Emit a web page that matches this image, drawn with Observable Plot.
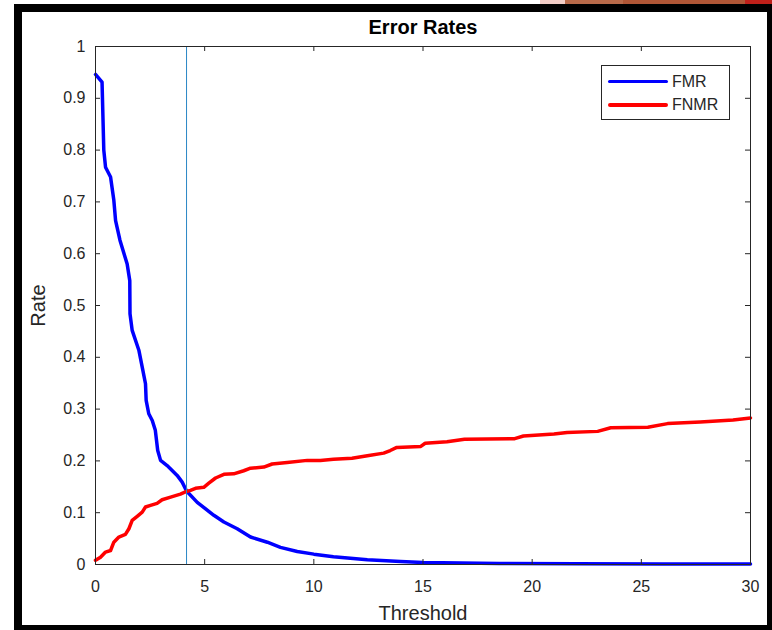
<!DOCTYPE html>
<html>
<head>
<meta charset="utf-8">
<script src="https://cdn.jsdelivr.net/npm/d3@7"></script>
<script src="https://cdn.jsdelivr.net/npm/@observablehq/plot@0.6"></script>
<style>
  body { margin: 0; background: #fff; }
  #wrap { position: relative; width: 772px; height: 630px; overflow: hidden; font-family: "Liberation Sans", Arial, sans-serif; background: #fff; }
  #wrap svg { position: absolute; left: 0; top: 0; }
  .frameBorder { position: absolute; left: 14px; top: 4px; width: 758px; height: 626px; box-sizing: border-box;
    border-left: 8px solid #000; border-top: 8px solid #000; border-right: 5px solid #000; border-bottom: 5px solid #000; pointer-events: none; }
  .strip { position: absolute; top: 0; height: 4px; }
  #legend { position: absolute; left: 601px; top: 65px; width: 129px; height: 55px; box-sizing: border-box; border: 1px solid #262626; background: #fff; }
  .lg-line { position: absolute; left: 6px; width: 60px; height: 3.5px; border-radius: 2px; }
  .lg-text { position: absolute; left: 70px; font-size: 16px; color: #262626; line-height: 16px; }
</style>
</head>
<body>
<div id="wrap"></div>
<script>
// ---- data ----
const fmrThreshold = [0, 0.30, 0.38, 0.46, 0.69, 0.84, 0.92, 1.12, 1.45, 1.57, 1.58, 1.68, 1.99, 2.14, 2.29, 2.32, 2.44, 2.60, 2.74, 2.85, 2.98, 3.28, 3.74, 3.97, 4.17, 4.66, 5.42, 5.88, 6.49, 7.10, 7.87, 8.47, 9.24, 10.0, 10.9, 12.45, 13.97, 15.0, 18.5, 22.0, 26.0, 30.0];
const fmrRate      = [0.946, 0.931, 0.800, 0.767, 0.748, 0.703, 0.664, 0.626, 0.580, 0.548, 0.484, 0.452, 0.413, 0.381, 0.349, 0.317, 0.291, 0.278, 0.259, 0.220, 0.201, 0.191, 0.172, 0.159, 0.142, 0.120, 0.095, 0.082, 0.069, 0.053, 0.043, 0.033, 0.025, 0.020, 0.015, 0.009, 0.006, 0.004, 0.002, 0.0015, 0.001, 0.001];

const fnmrThreshold = [0, 0.23, 0.46, 0.69, 0.84, 1.07, 1.37, 1.53, 1.68, 1.91, 2.14, 2.29, 2.52, 2.82, 3.05, 3.44, 3.89, 4.17, 4.35, 4.58, 4.96, 5.19, 5.50, 5.88, 6.33, 6.79, 7.10, 7.71, 8.09, 8.78, 9.70, 10.3, 10.9, 11.75, 12.45, 13.2, 13.5, 13.8, 14.9, 15.1, 16.1, 16.9, 19.2, 19.6, 21.0, 21.6, 23.0, 23.6, 25.3, 26.2, 27.7, 29.2, 30.0];
const fnmrRate      = [0.008, 0.014, 0.024, 0.027, 0.043, 0.053, 0.058, 0.069, 0.085, 0.093, 0.101, 0.111, 0.114, 0.118, 0.125, 0.130, 0.136, 0.141, 0.143, 0.147, 0.149, 0.157, 0.167, 0.174, 0.175, 0.181, 0.186, 0.188, 0.194, 0.197, 0.201, 0.201, 0.203, 0.205, 0.210, 0.215, 0.220, 0.226, 0.228, 0.234, 0.237, 0.242, 0.243, 0.248, 0.252, 0.255, 0.257, 0.264, 0.265, 0.272, 0.275, 0.279, 0.283];

const eerThreshold = [4.17];
const seriesNames = ["FMR", "FNMR"];
const seriesColors = ["#0000ff", "#ff0000"];
const xTicks = [0, 5, 10, 15, 20, 25, 30];
const yTicks = [0, 0.1, 0.2, 0.3, 0.4, 0.5, 0.6, 0.7, 0.8, 0.9, 1];
const titleText = "Error Rates";
const xLabelText = "Threshold";
const yLabelText = "Rate";

// ---- build ----
const W = 772, H = 630, ml = 95, mr = 22, mt = 46, mb = 66;
const fw = W - ml - mr, fh = H - mt - mb, tl = 5;
const axisColor = "#262626";

const fmr = fmrThreshold.map((t, i) => ({t, r: fmrRate[i]}));
const fnmr = fnmrThreshold.map((t, i) => ({t, r: fnmrRate[i]}));

const chart = Plot.plot({
  width: W, height: H,
  marginLeft: ml, marginRight: mr, marginTop: mt, marginBottom: mb,
  style: {fontFamily: "Liberation Sans, Arial, sans-serif", background: "transparent", color: axisColor},
  x: {domain: [0, 30]},
  y: {domain: [0, 1]},
  marks: [
    Plot.line(fmr, {x: "t", y: "r", stroke: seriesColors[0], strokeWidth: 3.5, strokeLinejoin: "round"}),
    Plot.line(fnmr, {x: "t", y: "r", stroke: seriesColors[1], strokeWidth: 3.5, strokeLinejoin: "round"}),
    Plot.ruleX(eerThreshold, {x: d => d, stroke: "#2b87c6", strokeWidth: 1}),
    Plot.frame({stroke: axisColor, strokeWidth: 1}),
    Plot.tickY(yTicks, {y: d => d, insetRight: fw - tl, stroke: axisColor}),
    Plot.tickY(yTicks, {y: d => d, insetLeft: fw - tl, stroke: axisColor}),
    Plot.tickX(xTicks, {x: d => d, insetTop: fh - tl, stroke: axisColor}),
    Plot.tickX(xTicks, {x: d => d, insetBottom: fh - tl, stroke: axisColor}),
    Plot.axisX({ticks: xTicks, tickSize: 0, tickPadding: 16, fontSize: 16, label: null, tickFormat: d => String(d)}),
    Plot.axisY({ticks: yTicks, tickSize: 0, tickPadding: 10, fontSize: 16, label: null, tickFormat: d => String(+d.toFixed(1))}),
    Plot.text([titleText], {text: d => d, frameAnchor: "top", lineAnchor: "middle", dy: -19, fontSize: 20, fontWeight: "bold", fill: "#000"}),
    Plot.text([xLabelText], {text: d => d, frameAnchor: "bottom", lineAnchor: "middle", dy: 49, fontSize: 20, fill: axisColor}),
    Plot.text([yLabelText], {text: d => d, frameAnchor: "left", textAnchor: "middle", lineAnchor: "middle", dx: -57, rotate: -90, fontSize: 20, fill: axisColor})
  ]
});

const wrap = document.getElementById("wrap");
wrap.appendChild(chart);

// decorations of the screenshot: black window frame and the strip above it
const strips = [[540, 565, "#f2cdc6"], [565, 623, "#b96a4a"], [623, 745, "#b05636"], [745, 772, "#c0201a"]];
for (const [a, b, c] of strips) {
  const s = document.createElement("div");
  s.className = "strip";
  s.style.left = a + "px"; s.style.width = (b - a) + "px"; s.style.background = c;
  wrap.appendChild(s);
}
const fb = document.createElement("div");
fb.className = "frameBorder";
wrap.appendChild(fb);

// legend
const lg = document.createElement("div");
lg.id = "legend";
const rowCenters = [15.5, 39];
seriesNames.forEach((name, i) => {
  const ln = document.createElement("div");
  ln.className = "lg-line";
  ln.style.top = (rowCenters[i] - 1.75) + "px";
  ln.style.background = seriesColors[i];
  lg.appendChild(ln);
  const tx = document.createElement("div");
  tx.className = "lg-text";
  tx.style.top = (rowCenters[i] - 8) + "px";
  tx.textContent = name;
  lg.appendChild(tx);
});
wrap.appendChild(lg);
</script>
</body>
</html>
